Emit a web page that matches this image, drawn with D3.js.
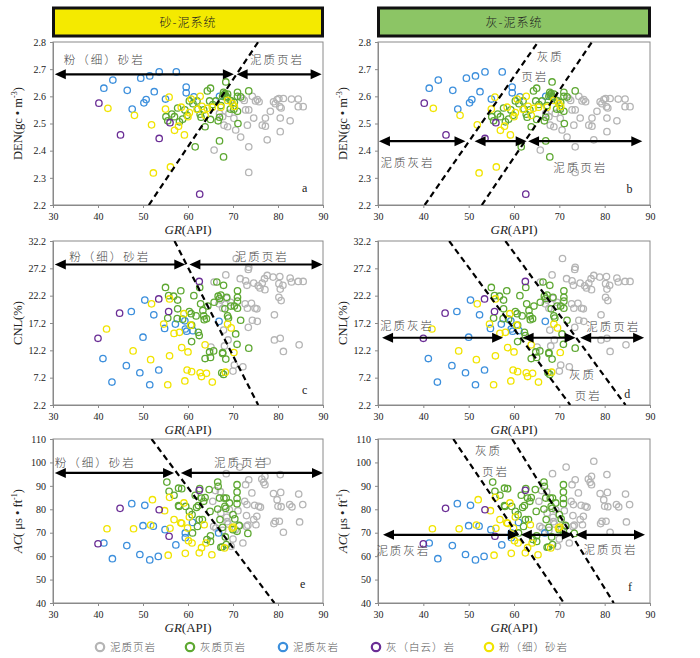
<!DOCTYPE html>
<html>
<head>
<meta charset="utf-8">
<script src="https://cdn.jsdelivr.net/npm/d3@7"></script>
<style>
  body { margin: 0; background: #fff; }
  svg text { font-family: "Liberation Serif", "DejaVu Serif", serif; }
  .cjk { font-family: "Noto Sans CJK SC", sans-serif !important; font-weight: 300; }
</style>
</head>
<body>
<svg id="chart" width="700" height="658"></svg>
<script>
// lithology classes, drawn in this order
var lithNames = ['泥质页岩', '灰质页岩', '泥质灰岩', '灰（白云）岩', '粉（细）砂岩'];
var lithColors = ['#b5b5b5', '#5ea832', '#3c8fdc', '#6a2d95', '#f1e400'];
var drawOrder = [0, 2, 1, 4, 3];

var grTicks = [30, 40, 50, 60, 70, 80, 90];
var denTicks = [2.2, 2.3, 2.4, 2.5, 2.6, 2.7, 2.8];
var cnlTicks = [2.2, 7.2, 12.2, 17.2, 22.2, 27.2, 32.2];
var acTicks = [40, 50, 60, 70, 80, 90, 100, 110];

// [GR, DEN]
var denShale = [[65.8,2.402],[67,2.537],[67.7,2.525],[68,2.494],[68.8,2.488],[69.1,2.537],[70.2,2.519],[70.6,2.476],[71.7,2.45],[72.5,2.585],[72.8,2.55],[73.2,2.494],[73.5,2.414],[73.5,2.32],[73.5,2.55],[74.3,2.6],[74.6,2.52],[75,2.583],[75.4,2.588],[75.8,2.58],[76.5,2.494],[77.2,2.49],[77.2,2.52],[77.6,2.44],[78.3,2.545],[79,2.58],[79.4,2.573],[79.8,2.588],[80.2,2.592],[80.4,2.562],[80.5,2.52],[80.5,2.47],[80.7,2.557],[81.2,2.592],[82.7,2.51],[83,2.59],[84.5,2.59],[84.5,2.562],[85.6,2.562],[69.4,2.585],[72.1,2.592]];
var denLimeShale = [[55.1,2.525],[55.5,2.51],[56.4,2.535],[57,2.525],[57.7,2.557],[58.1,2.506],[58.8,2.516],[59.3,2.55],[59.8,2.53],[60.3,2.583],[61.1,2.573],[61.6,2.414],[62,2.583],[62.2,2.553],[62.7,2.534],[62.9,2.523],[63.5,2.55],[63.8,2.488],[64.3,2.62],[65,2.63],[64.8,2.583],[65,2.515],[65.5,2.57],[66.2,2.583],[66.7,2.51],[67,2.523],[67,2.436],[67.3,2.566],[67.7,2.6],[67.9,2.615],[67.9,2.377],[68.4,2.653],[68.2,2.61],[68.5,2.6],[68.8,2.608],[69.4,2.553],[69.6,2.583],[70.3,2.577],[71,2.615],[71,2.6],[71,2.545],[71.1,2.5],[71.7,2.598],[73.5,2.62],[70.2,2.552],[68,2.605],[68.6,2.595]];
var denMarlstone = [[41.3,2.63],[43.3,2.66],[46.5,2.622],[47.6,2.553],[49.5,2.667],[50.2,2.576],[50.7,2.588],[51.5,2.675],[52.5,2.617],[53.6,2.69],[55,2.59],[57.4,2.69],[59.6,2.634],[59.6,2.613],[61.3,2.598],[67,2.6]];
var denDolomite = [[40.2,2.575],[45,2.458],[53.6,2.445],[56,2.503],[62.6,2.24]];
var denSiltstone = [[42.2,2.556],[48.1,2.53],[51.9,2.495],[52.3,2.318],[55,2.553],[55.8,2.597],[56.1,2.34],[57,2.475],[57.9,2.49],[58.5,2.56],[59.2,2.458],[60,2.525],[60.3,2.54],[60.7,2.59],[62,2.552],[62.7,2.6],[63.1,2.563],[63.8,2.53],[64.3,2.556],[65.4,2.56],[67.3,2.56],[68.8,2.585],[69.9,2.573],[70.3,2.563]];

// [GR, CNL]
var cnlShale = [[65.1,12.8],[65.8,24.7],[66.9,20.7],[67.3,21.4],[67.7,19.9],[67.9,15.9],[68.1,13],[68.4,26],[68.6,21.7],[68.9,14.1],[69.5,21],[70,8.4],[70.3,9.5],[70.7,29],[71.6,25.3],[72.2,9.2],[72.7,20.7],[72.8,24.9],[73.1,24.1],[73.2,19.9],[73.4,16.4],[73.5,27.4],[73.4,27],[74.1,20.8],[74.3,17.7],[74.6,24.5],[74.9,19.9],[75.3,19.8],[75.4,17.5],[75.6,24],[76,23.6],[76.5,24.5],[77,25.3],[77.1,23.3],[77.6,25.9],[78.9,25.6],[79.2,18.7],[79.2,14.1],[80.2,24.4],[80.4,25.7],[80.2,21.9],[80.5,23.4],[80.5,14.4],[80.7,21.3],[81.1,24.1],[81.2,12],[82.7,25.4],[83,24.7],[84.5,24.8],[84.7,13.2],[85.6,24.8]];
var cnlLimeShale = [[55,23.7],[55.7,22.2],[55.5,18.1],[56.8,22.1],[57.7,21.4],[57.7,19.8],[58.4,23.1],[57.6,18],[58.8,17.9],[60.3,19.3],[60.7,18.9],[60.8,16.8],[60.8,13.8],[61.3,22.2],[61.8,18.5],[62.3,15.5],[62.5,14.9],[62.6,23.7],[62.8,20.7],[63.3,19.5],[63.5,18.5],[63.8,10.7],[64.1,18],[64.4,20.3],[64.8,11.9],[65,10.9],[65.7,12.1],[66.4,24.7],[66.7,22.1],[67,21.7],[67.3,22.3],[67.5,8.1],[67.7,11.8],[67.7,11.6],[67.9,24.1],[67.9,7.8],[68.2,19.8],[68.4,10.6],[68.6,21.9],[68.8,18.5],[69,18.1],[69.5,20.3],[70.3,20.3],[70.6,15.2],[70.9,13.3],[71,23.1],[71,21.9],[71,21.2],[71,19.9],[71.7,17.7],[73.5,12.6],[63.6,17.8],[65.8,21]];
var cnlMarlstone = [[41.1,10.7],[43.1,6.4],[46.3,9.4],[47.4,19.3],[49.3,8.1],[50,14.6],[50.4,21.4],[51.5,5.9],[52.4,18.7],[53.5,8.6],[54.8,16.2],[57.2,17],[59.3,17.6],[59.4,16.1],[59.7,15.7],[61.1,15.8],[66.9,17.5]];
var cnlDolomite = [[40,14.4],[44.8,19],[53.5,21.6],[55.7,19.3],[62.5,24.8]];
var cnlSiltstone = [[41.9,16.1],[47.8,12.1],[51.7,10.5],[51.9,20.7],[54.6,17],[55.9,21.6],[55.9,11.2],[55.5,5.9],[56.9,15.3],[58.1,15.5],[58.6,12.7],[59.1,18.9],[59.3,6.6],[59.8,8.6],[60,11.9],[60.6,16.8],[60.8,8.3],[62.7,8.1],[63,7.4],[63.8,13.2],[64.1,8],[65.4,6.4],[68.3,8.2],[69.6,16.3],[70.2,11.8],[68.8,17]];

// [GR, AC]
var acShale = [[65.5,83.4],[65.7,72.7],[66.1,88],[66.2,72],[67.2,87.5],[67.3,78.4],[67.7,71],[68.5,95.2],[68.6,76.6],[68.7,74.7],[68.9,73.7],[69.2,79.8],[69.6,64.2],[70,67.3],[70.5,71.3],[71.1,79.4],[71.3,73.2],[71.5,98],[72.2,65.6],[72.6,83.4],[72.8,90.5],[73,72.7],[73,77.3],[73.1,82],[73.3,73.2],[73.5,92.6],[74.2,87],[74.6,75.6],[74.8,81.7],[75.1,73.4],[75.3,77],[75.7,81.3],[76.1,80.9],[76.4,92.9],[76.8,91.5],[77.1,94.1],[77.1,90.5],[77.6,100.5],[79,86.7],[79.1,73.9],[79.4,74.9],[79.8,84.1],[80,81.3],[80.3,74.9],[80.5,94.8],[80.6,87.2],[80.7,81.1],[81.2,70.2],[82.6,82],[83.1,81],[84.6,86.5],[84.8,74.6],[85.5,82]];
var acLimeShale = [[55.3,91.6],[55.8,87.7],[56.9,86],[57.9,89],[57.9,81.6],[58,81.2],[58.6,88.8],[59.5,81.2],[60.3,79.1],[60.9,77.7],[61,69.9],[61.6,86],[61.9,80.8],[62.1,72.7],[62.3,81.6],[62.5,75.6],[62.6,88.8],[63,84.8],[63.2,75.6],[63.5,83.4],[63.8,85],[64.2,67.1],[64.7,88.4],[64.9,79.1],[65,66.3],[65,68.7],[66.6,91.6],[66.7,89.8],[66.6,80.1],[67,84.8],[67.1,75.6],[67.3,63.8],[67.6,63.9],[67.7,72.3],[68,84.8],[68.2,81.3],[68.3,68.2],[68.4,80.4],[68.5,84.8],[68.5,64.9],[69.2,82.7],[70,77.7],[70.4,75.9],[70.9,90.5],[70.9,87.4],[70.9,84.6],[70.9,82.4],[70.9,70.6],[71.4,73],[73.3,69.7],[70,71.3]];
var acMarlstone = [[41.3,65.6],[43.2,58.9],[46.4,64.5],[47.5,82.4],[49.3,60.7],[50,73],[50.4,81.7],[51.5,58.4],[52.3,72.8],[53.4,59.9],[54.9,71.3],[57.3,64.8],[59.4,69.9],[59.4,67.9],[61,74.4],[66.8,69.9]];
var acDolomite = [[40,65.3],[44.9,80.4],[53.6,79.8],[55.8,68.5],[62.5,88.1]];
var acSiltstone = [[42,71.7],[47.9,71.7],[51.7,73.3],[52.1,84.1],[54.8,79.4],[55.6,60.4],[55.9,85.1],[56,71.9],[56.9,75.6],[58.4,74.2],[58.6,74],[59.1,82.7],[59.4,61.2],[59.9,72],[60.1,66.6],[60.3,76.7],[60.9,65.6],[62.5,61.4],[63,63.6],[63.6,73.4],[64,65.6],[65.3,60.6],[68.1,63.5],[69.8,72],[70.1,72.4]];

var denSets = [denShale, denLimeShale, denMarlstone, denDolomite, denSiltstone];
var cnlSets = [cnlShale, cnlLimeShale, cnlMarlstone, cnlDolomite, cnlSiltstone];
var acSets = [acShale, acLimeShale, acMarlstone, acDolomite, acSiltstone];

var svg = d3.select('#chart');

var cols = [[53, 323], [378, 650]];
var rows = [[42, 205], [241, 405], [439, 603]];

var headers = [
  { text: '砂-泥系统', fill: '#f4ea00', col: 0 },
  { text: '灰-泥系统', fill: '#8cc565', col: 1 }
];

headers.forEach(function(h) {
  var x0 = cols[h.col][0], x1 = cols[h.col][1];
  svg.append('rect')
    .attr('x', x0 + 0.5).attr('y', 8)
    .attr('width', x1 - x0 - 1).attr('height', 28)
    .attr('fill', h.fill).attr('stroke', '#111').attr('stroke-width', 3);
  svg.append('text').attr('class', 'cjk')
    .attr('x', (x0 + x1) / 2).attr('y', 27)
    .attr('text-anchor', 'middle')
    .attr('font-size', 12).attr('letter-spacing', 1).attr('fill', '#222')
    .text(h.text);
});

var panels = [
  { col: 0, row: 0, sets: denSets, domain: [2.2, 2.8], ticks: denTicks, fmt: d3.format('.1f'), title: 'den', letter: 'a', letterAt: [85.9, 2.262],
    lines: [[[51.3, 2.2], [75.6, 2.8]]],
    arrows: [[30.4, 70.2, 2.681], [70.8, 89.7, 2.681]],
    labels: [['粉（细）砂岩', 41.4, 2.735], ['泥质页岩', 79.8, 2.735]] },
  { col: 1, row: 0, sets: denSets, domain: [2.2, 2.8], ticks: denTicks, fmt: d3.format('.1f'), title: 'den', letter: 'b', letterAt: [85.5, 2.258],
    lines: [[[40.3, 2.2], [65.3, 2.8]], [[52.9, 2.2], [77.2, 2.8]]],
    arrows: [[30.2, 49.3, 2.435], [51.3, 62.8, 2.435], [63.1, 88.3, 2.435]],
    labels: [['泥质灰岩', 36.5, 2.355], ['泥质页岩', 74.6, 2.337], ['灰质', 68, 2.745], ['页岩', 64.6, 2.67]] },
  { col: 0, row: 1, sets: cnlSets, domain: [2.2, 32.2], ticks: cnlTicks, fmt: d3.format('.1f'), title: 'cnl', letter: 'c', letterAt: [85.9, 4.9],
    lines: [[[57, 32.2], [75.6, 2.2]]],
    arrows: [[30.4, 59.4, 27.9], [60.3, 89.9, 27.9]],
    labels: [['粉（细）砂岩', 42.6, 29.3], ['泥质页岩', 76.4, 29.3]] },
  { col: 1, row: 1, sets: cnlSets, domain: [2.2, 32.2], ticks: cnlTicks, fmt: d3.format('.1f'), title: 'cnl', letter: 'd', letterAt: [85, 4.2],
    lines: [[[45.7, 32.2], [72.4, 2.2]], [[58.1, 32.2], [84.6, 2.2]]],
    arrows: [[30.9, 57.6, 14.5], [61.9, 73.6, 14.5], [74.6, 88.7, 14.5]],
    labels: [['泥质灰岩', 36.4, 16.6], ['泥质页岩', 81.9, 16.4], ['灰质', 75.1, 7.6], ['页岩', 76.4, 3.9]] },
  { col: 0, row: 2, sets: acSets, domain: [40, 110], ticks: acTicks, fmt: d3.format('d'), title: 'ac', letter: 'e', letterAt: [85.5, 48],
    lines: [[[51.9, 110], [79.2, 40]]],
    arrows: [[30.4, 56.9, 95.5], [58.4, 90, 95.5]],
    labels: [['粉（细）砂岩', 39.4, 99.6], ['泥质页岩', 71.8, 99.6]] },
  { col: 1, row: 2, sets: acSets, domain: [40, 110], ticks: acTicks, fmt: d3.format('d'), title: 'ac', letter: 'f', letterAt: [85.6, 46.8],
    lines: [[[46.6, 110], [71, 40]], [[59.6, 110], [82, 40]]],
    arrows: [[31.1, 61.1, 69.1], [61.5, 73, 69.1], [73.6, 88.9, 69.1]],
    labels: [['灰质', 54.4, 104.8], ['页岩', 55.9, 96], ['泥质灰岩', 35.6, 62.2], ['泥质页岩', 81.3, 62.5]] }
];

function arrowHead(g, x, y, dir) {
  var L = 11, W = 5;
  g.append('path')
    .attr('d', 'M' + x + ',' + y + 'L' + (x - dir * L) + ',' + (y - W) + 'L' + (x - dir * L) + ',' + (y + W) + 'Z')
    .attr('fill', '#000');
}

panels.forEach(function(p) {
  var xr = cols[p.col], yr = rows[p.row];
  var x = d3.scaleLinear().domain([30, 90]).range(xr);
  var y = d3.scaleLinear().domain(p.domain).range([yr[1], yr[0]]);
  var g = svg.append('g');

  g.append('rect')
    .attr('x', xr[0]).attr('y', yr[0])
    .attr('width', xr[1] - xr[0]).attr('height', yr[1] - yr[0])
    .attr('fill', 'none').attr('stroke', '#8a8a8a').attr('stroke-width', 1);

  var xa = g.append('g').attr('transform', 'translate(0,' + yr[1] + ')')
    .call(d3.axisBottom(x).tickValues(grTicks).tickSize(3).tickPadding(5));
  var ya = g.append('g').attr('transform', 'translate(' + xr[0] + ',0)')
    .call(d3.axisLeft(y).tickValues(p.ticks).tickFormat(p.fmt).tickSize(3).tickPadding(4));
  [xa, ya].forEach(function(a) {
    a.select('.domain').attr('stroke', '#8a8a8a');
    a.selectAll('.tick line').attr('stroke', '#8a8a8a');
    a.selectAll('.tick text').attr('font-size', 10).attr('fill', '#222')
      .style('font-family', '"Liberation Serif", serif');
  });

  // x title
  var xt = g.append('text').attr('x', (xr[0] + xr[1]) / 2).attr('y', yr[1] + 29)
    .attr('text-anchor', 'middle').attr('font-size', 13).attr('fill', '#222');
  xt.append('tspan').attr('font-style', 'italic').text('GR');
  xt.append('tspan').text('(API)');

  // y title
  var ytx = xr[0] - 31, ytyc = (yr[0] + yr[1]) / 2;
  var yt = g.append('text')
    .attr('transform', 'translate(' + ytx + ',' + ytyc + ') rotate(-90)')
    .attr('text-anchor', 'middle').attr('font-size', 12.5).attr('fill', '#222');
  if (p.title === 'den') {
    yt.append('tspan').text('DEN(gc • m');
    yt.append('tspan').attr('dy', -5).attr('font-size', 8).text('-3');
    yt.append('tspan').attr('dy', 5).text(')');
  } else if (p.title === 'cnl') {
    yt.text('CNL(%)');
  } else {
    yt.append('tspan').attr('font-style', 'italic').text('AC');
    yt.append('tspan').text('( μs • ft');
    yt.append('tspan').attr('dy', -5).attr('font-size', 8).text('-1');
    yt.append('tspan').attr('dy', 5).text(')');
  }

  var clip = 'clip' + p.letter;
  g.append('clipPath').attr('id', clip).append('rect')
    .attr('x', xr[0]).attr('y', yr[0]).attr('width', xr[1] - xr[0]).attr('height', yr[1] - yr[0]);

  // points
  drawOrder.forEach(function(k) {
    g.append('g').selectAll('circle').data(p.sets[k]).join('circle')
      .attr('cx', function(d) { return x(d[0]); })
      .attr('cy', function(d) { return y(d[1]); })
      .attr('r', 3.2)
      .attr('fill', 'none')
      .attr('stroke', lithColors[k])
      .attr('stroke-width', 1.3);
  });

  // boundary lines
  p.lines.forEach(function(l) {
    g.append('line')
      .attr('x1', x(l[0][0])).attr('y1', y(l[0][1]))
      .attr('x2', x(l[1][0])).attr('y2', y(l[1][1]))
      .attr('stroke', '#000').attr('stroke-width', 2.2)
      .attr('stroke-dasharray', '6,4')
      .attr('clip-path', 'url(#' + clip + ')');
  });

  // range arrows
  p.arrows.forEach(function(a) {
    var x1 = x(a[0]), x2 = x(a[1]), yy = y(a[2]);
    g.append('line').attr('x1', x1 + 6).attr('x2', x2 - 6).attr('y1', yy).attr('y2', yy)
      .attr('stroke', '#000').attr('stroke-width', 2.2);
    arrowHead(g, x1, yy, -1);
    arrowHead(g, x2, yy, 1);
  });

  p.labels.forEach(function(t) {
    g.append('text').attr('class', 'cjk')
      .attr('x', x(t[1])).attr('y', y(t[2]) + 4)
      .attr('text-anchor', 'middle')
      .attr('font-size', 11.5).attr('letter-spacing', 2).attr('fill', '#444')
      .text(t[0]);
  });

  g.append('text')
    .attr('x', x(p.letterAt[0])).attr('y', y(p.letterAt[1]) + 4)
    .attr('text-anchor', 'middle').attr('font-size', 12).attr('fill', '#222')
    .text(p.letter);
});

// legend
var legendX = [100, 190, 283, 376, 489];
lithNames.forEach(function(name, i) {
  var lg = svg.append('g').attr('transform', 'translate(' + legendX[i] + ',647)');
  lg.append('circle').attr('r', 4.2).attr('fill', 'none')
    .attr('stroke', lithColors[i]).attr('stroke-width', 2.2);
  lg.append('text').attr('class', 'cjk').attr('x', 10).attr('y', 4)
    .attr('font-size', 10.5).attr('letter-spacing', 1).attr('fill', '#555')
    .text(name);
});
</script>
</body>
</html>
